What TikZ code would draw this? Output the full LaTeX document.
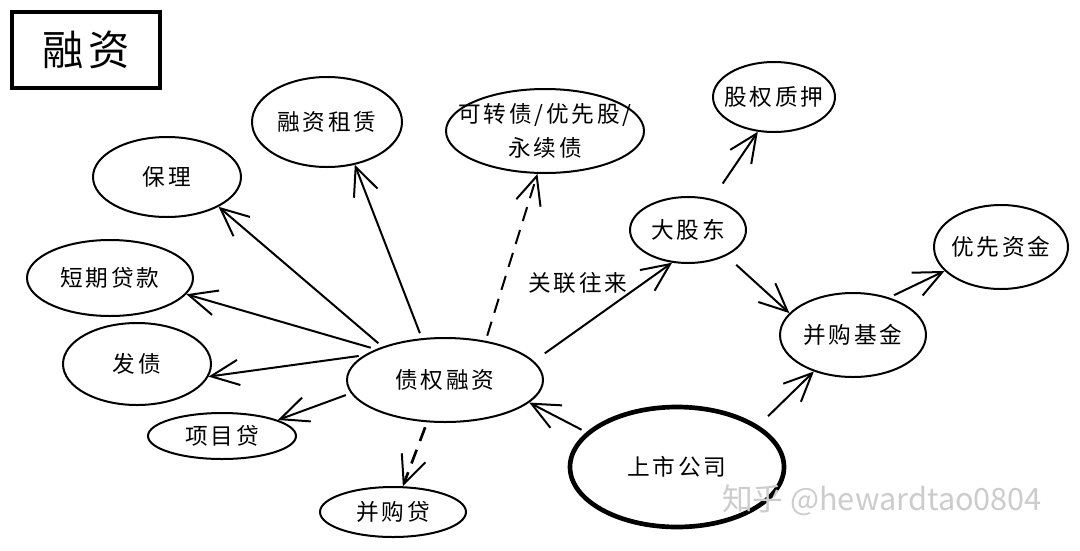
\documentclass[tikz,border=0pt]{standalone}
\usepackage{fontspec}
\setmainfont{Noto Sans CJK SC}[LetterSpace=12]
\newfontfamily\markfont{Noto Sans CJK SC}
\usetikzlibrary{shapes.geometric,arrows.meta}

\tikzset{every picture/.style={line width=1.5pt}}
\tikzset{
  bubble/.style 2 args={draw, ellipse, inner sep=0pt,
    minimum width=#1*0.75pt, minimum height=#2*0.75pt},
  every label/.style={font=\fontsize{17}{26}\selectfont, align=center, inner sep=0pt},
  link/.style={-{Straight Barb[length=21pt,width=19pt,line width=1.5pt]}, shorten <=4pt},
  dashlink/.style={link, dash pattern=on 11pt off 7pt},
}

\begin{document}
\begin{tikzpicture}[x=0.75pt,y=0.75pt,yscale=-1,xscale=1]
\useasboundingbox (0,0) rectangle (1080,550);

% Title box
\node [draw, line width=3pt, minimum width=148*0.75pt, minimum height=76*0.75pt,
  font=\fontsize{31}{31}\selectfont] (title) at (86,50) {融资};

%Shape: Ellipse  (debt side)
\node [bubble={150}{90}, label={center:融资租赁}] (rzzl) at (327,122) {};
\node [bubble={198}{84}, label={center:可转债/优先股/\\永续债}] (kzz) at (545,131) {};
\node [bubble={148}{80}, label={center:保理}] (bl) at (167,177) {};
\node [bubble={166}{76}, label={center:短期贷款}] (dqdk) at (110,278) {};
\node [bubble={148}{82}, label={center:发债}] (fz) at (137,364) {};
\node [bubble={148}{46}, label={center:项目贷}] (xmd) at (222,436) {};
\node [bubble={196}{84}, label={center:债权融资}] (zqrz) at (445,380) {};
\node [bubble={146}{50}, label={center:并购贷}] (bgd) at (393,512) {};

%Shape: Ellipse  (shareholder side)
\node [bubble={122}{70}, label={center:股权质押}] (gqzy) at (774,97) {};
\node [bubble={116}{66}, label={center:大股东}] (dgd) at (688,230) {};
\node [bubble={134}{84}, label={center:优先资金}] (yxzj) at (1001,247) {};
\node [bubble={146}{84}, label={center:并购基金}] (bgjj) at (853,335) {};
\node [bubble={214}{120}, line width=3.5pt, label={center:上市公司}] (ssgs) at (677,467) {};

% Text Node
\node [font=\fontsize{17}{20}\selectfont] (glwl) at (578,283) {关联往来};
\node [font=\markfont\fontsize{23}{23}\selectfont, text=gray!40] (mark) at (882,500) {知乎 @hewardtao0804};

% Arrows
\draw [link] (zqrz.152) -- (bl.330);
\draw [link] (zqrz.119) -- (rzzl.303);
\draw [link] (zqrz.156) -- (dqdk.348);
\draw [link] (zqrz.163) -- (fz.350);
\draw [link] (zqrz.188) -- (xmd.16);
\draw [dashlink] (zqrz.44) -- (kzz.260);
\draw [dashlink, line width=2pt] (zqrz.247) -- (bgd.69);
\draw [link, shorten <=10pt] (zqrz.12) -- (dgd.244);
\draw [link, shorten <=14pt] (dgd.52) -- (gqzy.245);
\draw [link, shorten <=10pt] (dgd.326) -- (bgjj.161);
\draw [link] (bgjj.46) -- (yxzj.203);
\draw [link] (ssgs.159) -- (zqrz.345);
\draw [link, shorten <=10pt] (ssgs.27) -- (bgjj.223);

\end{tikzpicture}
\end{document}
